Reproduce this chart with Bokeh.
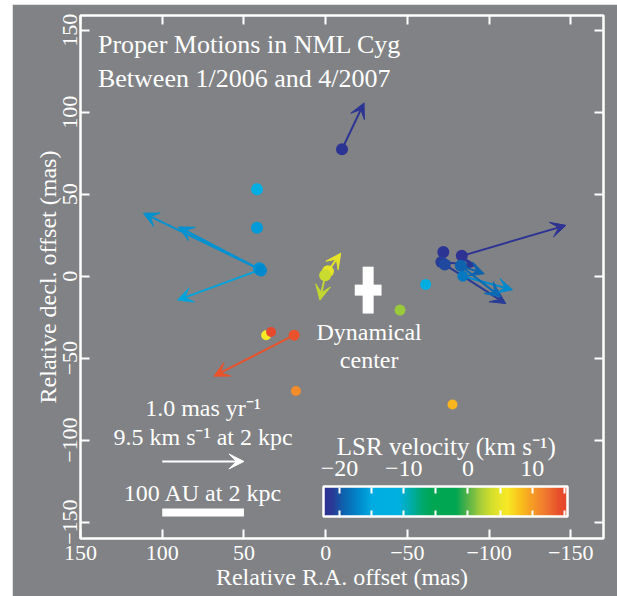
import numpy as np
from bokeh.plotting import figure
from bokeh.models import (ColumnDataSource, Arrow, VeeHead, LinearAxis, Range1d, ColorBar,
                          LinearColorMapper, FixedTicker, Label)
from bokeh.embed import file_html
from bokeh.resources import INLINE

FONT = "Liberation Serif"
BG = "#808285"
WHITE = "white"

# ---------------- data ----------------
x_ticks = [150, 100, 50, 0, -50, -100, -150]
y_ticks = [-150, -100, -50, 0, 50, 100, 150]
vel_ticks_major = [-20, -10, 0, 10]
vel_ticks_minor = [-15, -5, 5, 15]
vel_low, vel_high = -22.5, 15.5

# colour bar anchor colours (LSR velocity -> colour)
cbar_anchor_vel = [-22.5, -21, -19.5, -17, -15, -10.7, -9, -7, -5.4, -1.8, -0.2,
                   1.9, 3.7, 6.1, 8.2, 9.8, 11.9, 14, 15.5]
cbar_anchor_col = ["#2e3192", "#283b96", "#0e62ae", "#0089cc", "#00ade3", "#00b0e0",
                   "#00ada8", "#00a86b", "#00a651", "#00a651", "#4fb14a", "#a3cb3b",
                   "#d5df2c", "#f7e926", "#f9c11b", "#f6a024", "#f07d2e", "#e9522b", "#e6452e"]

# maser spots
spot_ra = [-10, 42, 42, 40.5, 39.5, -1.4, 0.3, -45.5, -61.2, -72, -83.3, -70.8,
           -72.9, -82.7, -83.9, 36.4, 33.4, 19.3, 18.2, -77.6]
spot_dec = [77.4, 53, 29.5, 4.5, 3.5, 3.0, 0.5, -20.7, -5, 14.8, 12.4, 8.7,
            7.1, 6.3, 0, -36, -34, -36, -70, -78.3]
spot_vel = [-22, -13, -16, -16.5, -17, 4.8, 3.3, 1.7, -13, -22, -22.3, -21,
            -20.5, -19.5, -18, 6, 15, 14, 11, 8.8]
spot_size = [12, 12, 12, 13, 12, 12, 12, 11, 11, 12, 12, 12, 12, 12, 11, 10, 10, 11, 10, 10]

# proper-motion vectors
pm_ra0 = [-10, 40, 40, 40, -1.4, 0.3, -83.3, -70.8, -82.7, -72.9, -83.9, -82.7, 19.3]
pm_dec0 = [77.4, 4, 4, 4, 3.0, 0.5, 12.4, 8.7, 6.3, 7.1, 0, 6.3, -36]
pm_ra1 = [-23.5, 111.5, 90, 90.6, -9.2, 3.5, -147, -92, -97, -110.2, -114.3, -107, 68.4]
pm_dec1 = [105.7, 38.4, 30, -14.6, 14, -14.6, 31, 6.7, 1.5, -16.7, -8.3, -12.6, -61]
pm_vel = [-22, -16.5, -16.5, -15.5, 4.8, 3.0, -22.3, -21.5, -19.5, -21, -17, -19, 14]

# dynamical centre with uncertainties (mas)
center_ra = [-26]
center_dec = [-8.5]
center_err_ra = [8.2]
center_err_dec = [14.3]

# scale references
scale_ra = [100, 50]          # 1.0 mas/yr arrow and 100 AU bar span
scale_arrow_dec = -113
scale_bar_dec = -144.2

# --------------- helpers ---------------
def hex2rgb(h):
    return [int(h[i:i + 2], 16) for i in (1, 3, 5)]

_anchor_rgb = np.array([hex2rgb(c) for c in cbar_anchor_col], dtype=float)


def vel_to_hex(v):
    r = np.interp(v, cbar_anchor_vel, _anchor_rgb[:, 0])
    g = np.interp(v, cbar_anchor_vel, _anchor_rgb[:, 1])
    b = np.interp(v, cbar_anchor_vel, _anchor_rgb[:, 2])
    return "#%02x%02x%02x" % (int(round(r)), int(round(g)), int(round(b)))


def fmt(t):
    return str(t).replace("-", "\u2212")


palette = [vel_to_hex(v) for v in np.linspace(vel_low, vel_high, 256)]

# --------------- figure ---------------
p = figure(width=605, height=592, x_range=Range1d(150, -170), y_range=Range1d(-160, 159),
           output_backend="svg", toolbar_location=None,
           min_border_left=68, min_border_right=14, min_border_top=11, min_border_bottom=58,
           background_fill_color=BG, border_fill_color=BG,
           outline_line_color=WHITE, outline_line_width=2.5)
p.margin = (4, 0, 0, 12)
p.grid.visible = False


def style_axis(ax, ticks, show_labels=True):
    ax.ticker = FixedTicker(ticks=ticks)
    ax.axis_line_color = None
    ax.major_tick_line_color = WHITE
    ax.major_tick_line_width = 2
    ax.major_tick_in = 9
    ax.major_tick_out = 0
    ax.minor_tick_line_color = None
    ax.major_label_text_font = FONT
    ax.axis_label_text_color = WHITE
    ax.axis_label_text_font = FONT
    ax.axis_label_text_font_style = "normal"
    if show_labels:
        ax.major_label_text_font_size = "22px"
        ax.major_label_text_color = WHITE
        ax.axis_label_text_font_size = "24px"
        ax.major_label_overrides = {t: fmt(t) for t in ticks}
        ax.major_label_standoff = 3
        ax.axis_label_standoff = 0
    else:
        # mirrored ticks only: labels are not painted and take no room
        ax.major_label_text_font_size = "1px"
        ax.major_label_text_color = None
        ax.major_label_overrides = {t: "" for t in ticks}
        ax.major_label_standoff = 0


style_axis(p.xaxis[0], x_ticks)
p.xaxis[0].axis_label = "Relative R.A. offset (mas)"
p.xaxis[0].major_label_standoff = 7
p.xaxis[0].axis_label_standoff = 1
style_axis(p.yaxis[0], y_ticks)
p.yaxis[0].axis_label = "Relative decl. offset (mas)"
p.yaxis[0].major_label_orientation = "parallel"

top_ax = LinearAxis()
style_axis(top_ax, x_ticks, show_labels=False)
p.add_layout(top_ax, "above")
right_ax = LinearAxis()
style_axis(right_ax, y_ticks, show_labels=False)
p.add_layout(right_ax, "right")

# proper motion arrows
pm_src = ColumnDataSource(dict(x0=pm_ra0, y0=pm_dec0, x1=pm_ra1, y1=pm_dec1,
                               color=[vel_to_hex(v) for v in pm_vel]))
p.add_layout(Arrow(source=pm_src, x_start="x0", y_start="y0", x_end="x1", y_end="y1",
                   line_color="color", line_width=2, level="underlay",
                   end=VeeHead(size=15, line_color="color", fill_color="color", line_width=1)))

# maser spots
spot_src = ColumnDataSource(dict(x=spot_ra, y=spot_dec, s=spot_size,
                                 color=[vel_to_hex(v) for v in spot_vel]))
p.scatter("x", "y", size="s", fill_color="color", line_color=None, source=spot_src)

# dynamical centre cross
cen_src = ColumnDataSource(dict(x=center_ra, y=center_dec,
                                w=[2 * e for e in center_err_ra],
                                h=[2 * e for e in center_err_dec]))
p.rect("x", "y", width=11, width_units="screen", height="h", source=cen_src,
       fill_color=WHITE, line_color=None)
p.rect("x", "y", width="w", height=11, height_units="screen", source=cen_src,
       fill_color=WHITE, line_color=None)

# scale arrow and scale bar
p.add_layout(Arrow(x_start=scale_ra[0], y_start=scale_arrow_dec, x_end=scale_ra[1],
                   y_end=scale_arrow_dec, line_color=WHITE, line_width=2,
                   end=VeeHead(size=15, line_color=WHITE, fill_color=WHITE, line_width=1)))
p.segment(x0=[scale_ra[0]], x1=[scale_ra[1]], y0=[scale_bar_dec], y1=[scale_bar_dec],
          line_color=WHITE, line_width=8, line_cap="butt")


def add_label(text, x, y, size, align="center", baseline="middle"):
    p.add_layout(Label(x=x, y=y, text=text, text_font=FONT, text_font_size=size,
                       text_color=WHITE, text_align=align, text_baseline=baseline))


add_label("Proper Motions in NML Cyg", 139.3, 141.5, "26px", align="left")
add_label("Between 1/2006 and 4/2007", 139.3, 120.7, "26px", align="left")
add_label("Dynamical", -26.6, -34.1, "24px")
add_label("center", -26.6, -51.2, "24px")
add_label("1.0 mas yr\u207b\u00b9", 75, -80.5, "24px")
add_label("9.5 km s\u207b\u00b9 at 2 kpc", 75, -98, "24px")
add_label("100 AU at 2 kpc", 75, -132.5, "24px")
add_label("LSR velocity (km s\u207b\u00b9)", -73.8, -103.7, "25px")

# colour bar
mapper = LinearColorMapper(palette=palette, low=vel_low, high=vel_high)
cbar_ticker = FixedTicker(ticks=vel_ticks_major, minor_ticks=vel_ticks_minor)
cb = ColorBar(color_mapper=mapper, orientation="horizontal", width=244, height=30,
              location=(243, 22), padding=0, margin=0,
              ticker=cbar_ticker,
              major_label_overrides={t: fmt(t) for t in vel_ticks_major},
              major_label_text_font=FONT, major_label_text_font_size="24px",
              major_label_text_color=WHITE, label_standoff=-56,
              major_tick_line_color=WHITE, major_tick_line_width=2,
              major_tick_in=6, major_tick_out=0,
              minor_tick_line_color=WHITE, minor_tick_line_width=2,
              minor_tick_in=6, minor_tick_out=0,
              bar_line_color=WHITE, bar_line_width=2.5,
              background_fill_color=None, border_line_color=None)
p.add_layout(cb)

# transparent twin strip along the top edge of the bar: only its ticks show
cb_top = ColorBar(color_mapper=mapper, orientation="horizontal", width=244, height=6,
                  location=(243, 45), padding=0, margin=0, scale_alpha=0,
                  ticker=cbar_ticker,
                  major_label_overrides={t: "" for t in vel_ticks_major},
                  major_label_text_font_size="1px", major_label_text_color=None,
                  label_standoff=0,
                  major_tick_line_color=WHITE, major_tick_line_width=2,
                  major_tick_in=6, major_tick_out=0,
                  minor_tick_line_color=WHITE, minor_tick_line_width=2,
                  minor_tick_in=6, minor_tick_out=0,
                  bar_line_color=None,
                  background_fill_color=None, border_line_color=None)
p.add_layout(cb_top)

open("out.html", "w").write(file_html(p, INLINE))
